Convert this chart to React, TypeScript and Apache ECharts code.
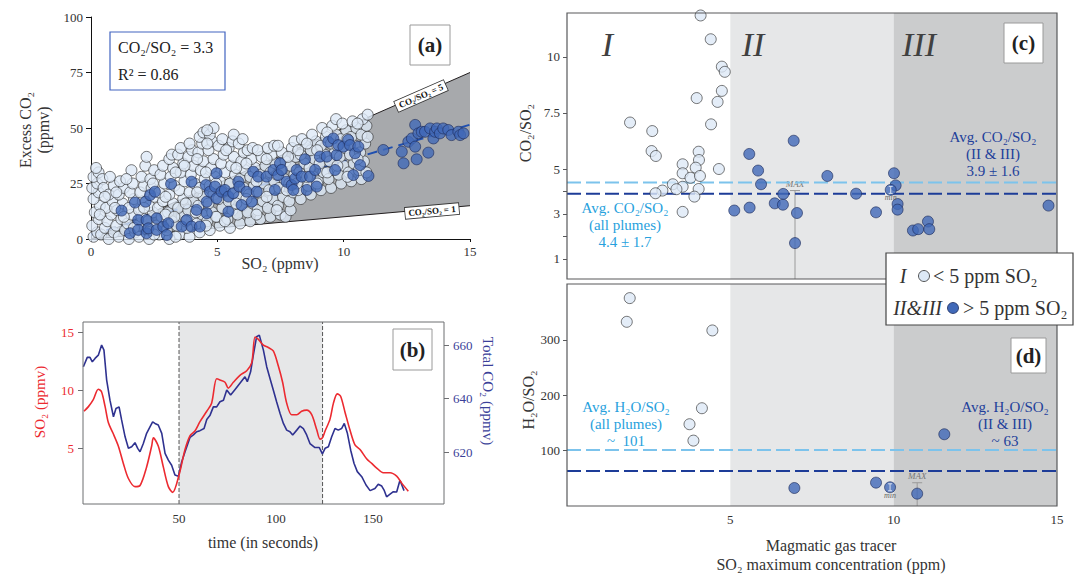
import React, { useEffect, useRef } from "react";
import * as echarts from "echarts";

const SERIF = "'Liberation Serif', 'Times New Roman', Times, serif";

// ---------------- Panel (a) ----------------
const aXTicks = [0, 5, 10, 15];
const aYTicks = [0, 25, 50, 75, 100];
const ratio5Line = [[0, 0], [15, 75]];
const ratio1Line = [[0, 0], [15, 15]];
const wedgeVertices = [[0, 0], [15, 75], [15, 15]];
const fitLine = [[0, 2], [15, 51.5]];

const plumeLowSO2 = [
  [0.1, 1], [0.25, 3], [0.05, 6], [0.3, 9], [0.15, 12], [0.35, 15], [0.1, 18], [0.3, 21], [0.05, 23], [0.25, 25], [0.1, 28], [0.3, 30], [0.2, 32], [0.45, 27], [0.5, 23], [0.4, 2], [0.55, 5],
  [0.7, 0], [0.65, 8], [0.8, 11], [0.6, 14], [0.85, 17], [0.7, 20], [0.9, 24], [0.75, 28], [0.9, 3], [1.0, 6],
  [1.1, 1], [1.2, 9], [1.05, 13], [1.25, 16], [1.1, 20], [1.3, 23], [1.15, 26], [1.35, 4],
  [1.5, 0], [1.45, 7], [1.6, 11], [1.5, 14], [1.7, 18], [1.55, 21], [1.65, 25], [1.6, 31], [1.75, 3],
  [1.9, 1], [1.85, 6], [2.0, 10], [1.9, 13], [2.05, 17], [1.95, 21], [2.1, 24], [2.0, 28], [2.15, 33], [2.2, 37],
  [2.3, 0], [2.35, 4], [2.25, 8], [2.45, 12], [2.3, 15], [2.5, 19], [2.4, 23], [2.35, 27], [2.5, 31],
  [2.7, 2], [2.6, 6], [2.8, 10], [2.65, 14], [2.85, 17], [2.7, 21], [2.9, 25], [2.75, 29], [2.85, 33],
  [3.1, 0], [3.0, 4], [3.2, 8], [3.05, 12], [3.25, 16], [3.1, 20], [3.3, 24], [3.15, 28], [3.25, 32], [3.1, 36], [3.2, 38],
  [3.5, 2], [3.4, 6], [3.6, 10], [3.45, 14], [3.65, 18], [3.5, 22], [3.7, 26], [3.55, 30], [3.65, 34], [3.45, 38], [3.55, 41],
  [3.9, 1], [3.8, 5], [4.0, 9], [3.85, 13], [4.05, 17], [3.9, 21], [4.1, 25], [3.95, 29], [4.05, 33], [3.85, 37], [4.0, 40], [3.9, 43],
  [4.3, 3], [4.2, 7], [4.4, 11], [4.25, 15], [4.45, 19], [4.3, 23], [4.5, 27], [4.35, 31], [4.45, 35], [4.25, 39], [4.4, 43], [4.3, 46], [4.45, 48],
  [4.7, 4], [4.6, 8], [4.8, 12], [4.65, 16], [4.85, 20], [4.7, 24], [4.9, 28], [4.75, 32], [4.85, 36], [4.65, 40], [4.8, 44], [4.7, 47], [4.85, 50], [4.6, 49],
  [5.1, 6], [5.0, 10], [5.2, 14], [5.05, 18], [5.25, 22], [5.1, 26], [5.3, 30], [5.15, 34], [5.25, 38], [5.05, 42], [5.2, 45],
  [5.5, 5], [5.4, 9], [5.6, 13], [5.45, 17], [5.65, 21], [5.5, 25], [5.7, 29], [5.55, 33], [5.65, 37], [5.45, 41], [5.6, 44], [5.65, 47],
  [5.9, 7], [5.8, 11], [6.0, 15], [5.85, 19], [6.05, 23], [5.9, 27], [6.1, 31], [5.95, 35], [6.05, 39], [5.85, 43], [6.0, 45],
  [6.3, 8], [6.2, 12], [6.4, 16], [6.25, 20], [6.45, 24], [6.3, 28], [6.5, 32], [6.35, 36], [6.2, 40], [6.4, 41],
  [6.7, 9], [6.6, 13], [6.8, 17], [6.65, 21], [6.85, 25], [6.7, 29], [6.9, 33], [6.75, 37], [6.6, 40],
  [7.1, 10], [7.0, 14], [7.2, 18], [7.05, 22], [7.25, 26], [7.1, 30], [7.3, 34], [7.15, 38], [7.0, 41], [7.25, 42],
  [7.5, 11], [7.4, 15], [7.6, 19], [7.45, 23], [7.65, 27], [7.5, 31], [7.7, 35], [7.55, 39], [7.4, 42], [7.7, 10],
  [7.9, 13], [7.85, 17], [8.0, 21], [7.85, 25], [8.05, 29], [7.9, 33], [8.1, 37], [7.95, 41], [8.05, 44],
  [8.3, 18], [8.2, 22], [8.4, 26], [8.25, 30], [8.45, 34], [8.3, 38], [8.5, 42], [8.35, 45],
  [8.7, 20], [8.6, 24], [8.8, 28], [8.65, 32], [8.85, 36], [8.7, 40], [8.9, 44], [8.75, 47],
  [9.1, 22], [9.0, 26], [9.2, 30], [9.05, 34], [9.25, 38], [9.1, 42], [9.3, 46], [9.15, 50],
  [9.5, 23], [9.4, 27], [9.6, 31], [9.45, 35], [9.65, 39], [9.5, 43], [9.7, 47], [9.55, 51], [9.7, 54],
  [9.9, 25], [9.8, 29], [10.0, 33], [9.85, 37], [10.05, 41], [9.9, 45], [10.1, 49], [9.95, 52],
  [10.3, 26], [10.2, 30], [10.4, 34], [10.25, 38], [10.45, 42], [10.3, 46], [10.5, 50], [10.35, 53],
  [10.7, 27], [10.6, 31], [10.8, 35], [10.65, 39], [10.85, 43], [10.7, 47], [10.9, 51], [10.75, 54], [10.95, 56],
  [0.35, 11], [0.55, 19], [0.95, 14], [1.3, 10], [1.0, 21], [1.4, 27], [1.7, 5], [2.1, 14], [2.5, 2], [2.45, 25],
  [2.95, 11], [2.95, 19], [3.35, 1], [3.3, 10], [3.35, 30], [3.75, 8], [3.75, 16], [3.7, 33], [4.15, 12], [4.2, 21],
  [4.2, 36], [4.55, 6], [4.55, 30], [4.6, 43], [4.95, 10], [4.95, 25], [5.3, 8], [5.35, 40], [5.75, 16], [5.75, 32],
  [6.15, 18], [6.15, 34], [6.55, 11], [6.55, 26], [6.95, 19], [6.95, 36], [7.35, 13], [7.35, 29], [7.75, 22], [7.8, 37],
  [8.15, 25], [8.2, 40], [8.55, 28], [8.55, 43], [8.95, 25], [8.95, 40], [9.35, 30], [9.35, 48], [9.75, 33], [9.75, 42],
  [10.15, 28], [10.15, 45], [10.55, 36], [10.55, 52], [10.9, 30], [10.95, 46],
];

const plumeHighSO2 = [
  [1.21, 12.8], [1.54, 2.6], [1.74, 16.4], [1.87, 8.6], [1.87, 4.1], [2.2, 2.6], [2.16, 16.8], [2.34, 19.8], [2.53, 21.3],
  [2.2, 8.6], [2.6, 9.3], [2.27, 4.8], [2.6, 4.1], [2.86, 5.6], [3.06, 7.1], [3.0, 1.8], [3.17, 24.8], [3.59, 5.6],
  [3.79, 8.6], [3.98, 5.6], [3.98, 25.8], [4.18, 13.1], [4.31, 5.6], [4.58, 11.6], [4.58, 16.8], [4.55, 24.3], [4.71, 21.3],
  [4.97, 29.6], [4.91, 23.6], [4.97, 18.3], [5.17, 21.3], [5.3, 22.1], [5.44, 19.1], [5.44, 12.3], [5.63, 20.6], [5.83, 25.8],
  [5.87, 23.6], [5.96, 15.3], [6.16, 21.3], [6.36, 16.8], [6.56, 21.3], [6.42, 30.3], [6.62, 28.1], [6.95, 28.1], [7.22, 31.1],
  [7.28, 22.1], [7.41, 28.8], [7.48, 34.1], [7.55, 31.1], [7.74, 25.8], [7.94, 24.3], [8.01, 22.1], [8.08, 27.3], [8.14, 31.1],
  [8.34, 28.1], [8.47, 35.9], [8.54, 22.1], [8.67, 28.1], [8.87, 31.1], [8.93, 23.6], [9.06, 37.1], [9.33, 37.1], [9.39, 43.8],
  [9.59, 45.3], [9.66, 31.1], [9.72, 37.8], [9.79, 42.3], [9.99, 41.6], [10.18, 44.6], [10.25, 42.3], [10.38, 28.8], [10.45, 38.6],
  [10.58, 41.6], [10.65, 33.3], [10.98, 28.4], [11.57, 40.1], [12.3, 39.3], [12.37, 34.1], [12.56, 43.8], [12.7, 45.3], [12.83, 51.4],
  [12.89, 35.9], [12.83, 41.6], [12.96, 47.6], [13.09, 48.3], [13.35, 38.9], [13.22, 48.3], [13.42, 49.8], [13.55, 45.3], [13.62, 48.3],
  [13.69, 49.8], [13.81, 47.6], [13.94, 49.8], [14.14, 49.1], [14.27, 46.8], [14.54, 48.3], [14.61, 46.8], [14.74, 47.6],
];

// ---------------- Panel (b) ----------------
const timeTicks = [50, 100, 150];
const so2Ticks = [5, 10, 15];
const co2Ticks = [620, 640, 660];
const plumeWindow = [[50, 124]];
const plumeBounds = [50, 124];

const so2Trace = [
  [1, 8.2], [3.3, 8.6], [5.8, 9.2], [8.4, 10.1], [10, 9.9], [11.9, 8.6], [13.6, 7.2], [16, 6.3], [18.7, 5.2], [21.3, 3.7],
  [23.9, 2.4], [27.3, 1.7], [29.9, 1.8], [33.3, 3.4], [35.9, 5.2], [36.8, 5.9], [39.3, 5.2], [41.9, 3.4], [44.5, 1.7], [46.7, 1.2],
  [50, 2.7], [53.1, 4.9], [55.7, 6.1], [58.2, 6.5], [60.8, 7.3], [64.3, 8.2], [66.8, 8.9], [69.4, 11.0], [71.1, 10.9], [73.7, 10.7],
  [75.4, 10.2], [78, 10.7], [81.4, 11.3], [84.9, 11.7], [87.5, 12.4], [89.2, 14.6], [90.9, 14.4], [93.5, 13.9], [96, 13.7], [98.6, 13.4],
  [101.2, 12.1], [103.4, 10.7], [105.5, 8.9], [108.1, 7.9], [110.7, 7.9], [113.2, 8.2], [115.8, 8.3], [118.4, 7.9], [121, 6.6], [122.7, 5.8],
  [123.9, 5.9], [125.3, 6.5], [127.8, 7.5], [129.6, 8.9], [131.6, 9.7], [133.3, 9.5], [135.6, 8.1], [138.1, 6.6], [140.7, 5.3], [143.3, 4.9],
  [146.7, 4.1], [149.3, 3.7], [151.9, 3.3], [155.3, 2.9], [158.8, 2.9], [162.2, 2.6], [164.8, 2.0], [168.2, 1.3],
];

const co2Trace = [
  [0.7, 651.9], [2.7, 655.4], [4.1, 655.4], [5.3, 653.7], [6.7, 655], [8.4, 656.2], [10.1, 660], [11.3, 658.1], [12.7, 646.9], [14.4, 639.4],
  [16.2, 633.2], [17.5, 636.3], [19.1, 636.9], [20.4, 632], [22.2, 625.7], [23.9, 621.4], [25.6, 622], [27.3, 623.5], [28.7, 621.4], [29.9, 620.1],
  [31.6, 623.2], [33.3, 627], [35.1, 629.5], [36.4, 631.3], [37.6, 630.7], [39.3, 630.1], [41.1, 627], [42.8, 619.5], [44.5, 617], [46.2, 615.1],
  [47.9, 611.4], [49.7, 611], [51.4, 616.4], [53.1, 620.1], [55.7, 625.5], [57.4, 626.4], [59.1, 627.6], [60.8, 628], [62.9, 628.8], [64.3, 632.2],
  [66, 633.8], [67.7, 636.9], [69.4, 636.9], [71.1, 638.8], [72.9, 639.4], [74.6, 643.2], [76.6, 641.3], [78.9, 643.4], [81.4, 645.7], [84, 648.1],
  [85.2, 646.3], [86.9, 650], [88.3, 656.2], [90, 663.1], [91.4, 663.7], [93.5, 658.1], [95.2, 651.9], [96.9, 647.5], [98.6, 643.2], [100.3, 638.8],
  [102.1, 634.4], [103.8, 630.7], [105.5, 628.2], [107.2, 627.6], [108.6, 626.4], [110.7, 628.2], [112.4, 629.7], [114.1, 628.8], [115.8, 626.4], [117.5, 623.2],
  [120.1, 621.7], [122.3, 621.7], [123.9, 619.3], [125.3, 621.4], [127, 622], [128.7, 625.7], [130.4, 628.8], [132.1, 628.2], [133.8, 628.8], [135.2, 630.7],
  [136.8, 627], [138.5, 620.7], [140.2, 615.8], [141.9, 612.7], [144.2, 610.8], [146.4, 607.7], [148.5, 605.6], [151, 606.4], [152.7, 608], [154.5, 607.3],
  [155.7, 605.8], [157, 603.3], [158.8, 604.3], [160.5, 605.2], [162.2, 605.1], [163.9, 609.5], [166, 605.6],
];

// ---------------- Panels (c) & (d) ----------------
const tracerTicks = [5, 10, 15];
const co2RatioLabels = [1, 3, 5, 7.5, 10];
const co2RatioTicks = [1, 2, 3, 4, 5, 7.5, 10];
const h2oRatioTicks = [100, 200, 300];
const regimeBands = [[5, 10], [10, 15]];

const co2RatioLow = [
  [4.09, 11.84], [4.4, 10.78], [4.74, 9.56], [4.83, 9.33], [4.74, 8.48], [4.61, 7.99], [3.97, 8.16], [4.41, 6.99], [1.93, 7.07], [2.61, 6.69],
  [2.59, 5.8], [2.72, 5.58], [4.65, 5.0], [4.03, 5.77], [4.04, 5.4], [3.54, 5.21], [3.94, 5.06], [3.54, 4.81], [3.78, 4.61], [4.07, 4.69],
  [3.24, 4.32], [3.54, 4.21], [3.35, 4.1], [2.92, 4.04], [2.71, 3.92], [4.03, 4.11], [3.9, 3.77], [3.54, 3.09],
];
const co2RatioHigh = [
  [5.58, 5.67], [5.85, 4.93], [5.94, 4.32], [5.12, 3.15], [5.59, 3.28], [6.94, 6.26], [6.62, 3.89], [6.36, 3.47], [6.61, 3.41], [7.04, 3.04],
  [6.98, 1.7], [7.97, 4.69], [8.85, 3.9], [9.46, 3.07], [10.01, 4.81], [10.06, 4.27], [9.91, 4.07], [10.12, 3.44], [10.12, 3.19], [10.59, 2.26],
  [10.75, 2.32], [11.05, 2.66], [11.09, 2.32], [14.74, 3.37],
];
const h2oRatioLow = [[1.92, 375.5], [1.83, 332.7], [4.45, 317.1], [4.13, 176.6], [3.75, 147.7], [3.87, 118.1]];
const h2oRatioHigh = [[6.96, 32.5], [9.46, 42.2], [9.89, 33.8], [10.72, 22.3], [11.55, 129.6]];

const avgCO2All = 4.4;
const avgCO2High = 3.9;
const avgH2OAll = 101;
const avgH2OHigh = 63;
const maxBarC = [[6.98, 4.04, 0.1]];
const maxBarD = [[10.72, 42, 0]];
const minMarkC = [[9.91, 4.07]];
const minMarkD = [[9.89, 33.8]];

// ---------------- styles ----------------
const LIGHT_PT = { color: "#dde9f6", borderColor: "#2b2b2b", borderWidth: 0.8 };
const BLUE_PT = { color: "#4169b8", borderColor: "#1c2b5a", borderWidth: 0.8 };
const LIGHT_DASH = "#7cc3ec";
const DARK_DASH = "#1d3c98";
const RED = "#ec2a30";
const NAVY = "#2f3290";

function txt(x: number, y: number, text: string, o: any = {}) {
  const align = o.align || "center";
  return {
    type: "text",
    x,
    y,
    z: 100,
    rotation: o.rotation || 0,
    style: {
      text,
      fontFamily: SERIF,
      fontSize: o.size || 15,
      fill: o.color || "#333",
      align,
      textAlign: align,
      verticalAlign: "middle",
      textVerticalAlign: "middle",
      fontStyle: o.italic ? "italic" : "normal",
      fontWeight: o.bold ? "bold" : "normal",
      lineHeight: o.lineHeight,
      ...(o.extra || {}),
    },
  };
}
function box(x: number, y: number, w: number, h: number, stroke = "#9a9a9a", lw = 1) {
  return { type: "rect", z: 99, shape: { x, y, width: w, height: h }, style: { fill: "#fff", stroke, lineWidth: lw } };
}

function bandSeries(xi: number, yi: number, bands: number[][], colors: string[]) {
  return {
    type: "custom",
    xAxisIndex: xi,
    yAxisIndex: yi,
    z: 0,
    silent: true,
    data: bands,
    renderItem: (params: any, api: any) => {
      const cs = params.coordSys;
      const x0 = api.coord([api.value(0), 1])[0];
      const x1 = api.coord([api.value(1), 1])[0];
      return { type: "rect", shape: { x: x0, y: cs.y, width: x1 - x0, height: cs.height }, style: { fill: colors[params.dataIndex] } };
    },
  };
}

function hLine(xi: number, yi: number, value: number, color: string) {
  return {
    type: "line",
    xAxisIndex: xi,
    yAxisIndex: yi,
    z: 3,
    silent: true,
    symbol: "none",
    data: [[0, value], [15, value]],
    lineStyle: { color, width: 2, type: [14, 5] },
  };
}

function maxBarSeries(xi: number, yi: number, data: number[][]) {
  return {
    type: "custom",
    xAxisIndex: xi,
    yAxisIndex: yi,
    z: 3,
    silent: true,
    data,
    renderItem: (params: any, api: any) => {
      const top = api.coord([api.value(0), api.value(1)]);
      const bot = api.coord([api.value(0), api.value(2)]);
      const st = { stroke: "#9a9a9a", lineWidth: 1 };
      return {
        type: "group",
        children: [
          { type: "line", shape: { x1: top[0], y1: top[1], x2: bot[0], y2: bot[1] }, style: st },
          { type: "line", shape: { x1: top[0] - 5, y1: top[1], x2: top[0] + 5, y2: top[1] }, style: st },
          {
            type: "text",
            x: top[0],
            y: top[1] - 2,
            style: { text: "MAX", fontSize: 9, fontStyle: "italic", fill: "#777", align: "center", verticalAlign: "bottom", fontFamily: SERIF },
          },
        ],
      };
    },
  };
}

function minMarkSeries(xi: number, yi: number, data: number[][]) {
  return {
    type: "custom",
    xAxisIndex: xi,
    yAxisIndex: yi,
    z: 8,
    silent: true,
    data,
    renderItem: (params: any, api: any) => {
      const p = api.coord([api.value(0), api.value(1)]);
      const st = { stroke: "#d8e0ee", lineWidth: 1 };
      return {
        type: "group",
        children: [
          { type: "line", shape: { x1: p[0], y1: p[1] - 3.5, x2: p[0], y2: p[1] + 3.5 }, style: st },
          { type: "line", shape: { x1: p[0] - 2, y1: p[1] - 3.5, x2: p[0] + 2, y2: p[1] - 3.5 }, style: st },
          { type: "line", shape: { x1: p[0] - 2, y1: p[1] + 3.5, x2: p[0] + 2, y2: p[1] + 3.5 }, style: st },
          {
            type: "text",
            x: p[0],
            y: p[1] + 8,
            style: { text: "min", fontSize: 8, fontStyle: "italic", fill: "#666", align: "center", verticalAlign: "middle", fontFamily: SERIF },
          },
        ],
      };
    },
  };
}

const axisLabelBase = { fontFamily: SERIF, fontSize: 13, color: "#333" };

export default function App() {
  const ref = useRef<HTMLDivElement>(null);

  useEffect(() => {
    if (!ref.current) return;
    const chart = echarts.init(ref.current, null, { renderer: "svg" });

    const option: any = {
      animation: false,
      backgroundColor: "#ffffff",
      textStyle: { fontFamily: SERIF },
      grid: [
        { left: 91, top: 17, width: 379, height: 222, show: false },
        { left: 83, top: 322, width: 361, height: 182, show: true, borderColor: "#6d6e71", borderWidth: 1, backgroundColor: "transparent", z: 10 },
        { left: 567, top: 13, width: 490, height: 266, show: true, borderColor: "#58595b", borderWidth: 1.2, backgroundColor: "transparent", z: 10 },
        { left: 567, top: 284, width: 490, height: 222, show: true, borderColor: "#58595b", borderWidth: 1.2, backgroundColor: "transparent", z: 10 },
      ],
      xAxis: [
        {
          gridIndex: 0, type: "value", min: 0, max: 15, interval: 5,
          axisLine: { show: true, lineStyle: { color: "#111", width: 1 } },
          axisTick: { show: true, length: 3, lineStyle: { color: "#111" } },
          axisLabel: { ...axisLabelBase, margin: 6, customValues: aXTicks },
          splitLine: { show: false },
        },
        {
          gridIndex: 1, type: "value", min: 0.5, max: 186.6,
          axisLine: { show: false }, axisTick: { show: false },
          axisLabel: { ...axisLabelBase, margin: 8, customValues: timeTicks },
          splitLine: { show: false },
        },
        {
          gridIndex: 2, type: "value", min: 0, max: 15,
          axisLine: { show: false }, axisTick: { show: false }, axisLabel: { show: false }, splitLine: { show: false },
        },
        {
          gridIndex: 3, type: "value", min: 0, max: 15,
          axisLine: { show: false }, axisTick: { show: false },
          axisLabel: { ...axisLabelBase, margin: 7, customValues: tracerTicks },
          splitLine: { show: false },
        },
      ],
      yAxis: [
        {
          gridIndex: 0, type: "value", min: 0, max: 100, interval: 25,
          axisLine: { show: true, lineStyle: { color: "#111", width: 1 } },
          axisTick: { show: true, length: 5, lineStyle: { color: "#111" } },
          axisLabel: { ...axisLabelBase, margin: 8, customValues: aYTicks },
          splitLine: { show: false },
        },
        {
          gridIndex: 1, type: "value", position: "left", min: 0.2, max: 15.9,
          axisLine: { show: false },
          axisTick: { show: true, length: 5, customValues: so2Ticks, lineStyle: { color: "#6d6e71" } },
          axisLabel: { ...axisLabelBase, color: RED, margin: 9, customValues: so2Ticks },
          splitLine: { show: false },
        },
        {
          gridIndex: 1, type: "value", position: "right", min: 600.6, max: 668.6,
          axisLine: { show: false },
          axisTick: { show: true, length: 5, customValues: co2Ticks, lineStyle: { color: "#6d6e71" } },
          axisLabel: { ...axisLabelBase, color: "#3b3f99", margin: 9, customValues: co2Ticks },
          splitLine: { show: false },
        },
        {
          gridIndex: 2, type: "value", min: 0.1, max: 11.95,
          axisLine: { show: false },
          axisTick: { show: true, length: 4, customValues: co2RatioTicks, lineStyle: { color: "#58595b" } },
          axisLabel: { ...axisLabelBase, margin: 7, customValues: co2RatioLabels },
          splitLine: { show: false },
        },
        {
          gridIndex: 3, type: "value", min: 0, max: 401,
          axisLine: { show: false },
          axisTick: { show: true, length: 4, customValues: h2oRatioTicks, lineStyle: { color: "#58595b" } },
          axisLabel: { ...axisLabelBase, margin: 7, customValues: h2oRatioTicks },
          splitLine: { show: false },
        },
      ],
      series: [
        // ----- (a)
        {
          type: "custom", xAxisIndex: 0, yAxisIndex: 0, z: 1, silent: true, data: [0],
          renderItem: (params: any, api: any) => ({
            type: "polygon",
            shape: { points: wedgeVertices.map((p) => api.coord(p)) },
            style: { fill: "#a7a9ac" },
          }),
        },
        { type: "line", xAxisIndex: 0, yAxisIndex: 0, z: 2, symbol: "none", silent: true, data: ratio5Line, lineStyle: { color: "#231f20", width: 1 } },
        { type: "line", xAxisIndex: 0, yAxisIndex: 0, z: 2, symbol: "none", silent: true, data: ratio1Line, lineStyle: { color: "#231f20", width: 1 } },
        { type: "line", xAxisIndex: 0, yAxisIndex: 0, z: 2, symbol: "none", silent: true, data: fitLine, lineStyle: { color: "#1f4fb0", width: 2, type: [10, 6] } },
        { type: "scatter", xAxisIndex: 0, yAxisIndex: 0, z: 3, clip: false, symbolSize: 11, data: plumeLowSO2, itemStyle: LIGHT_PT },
        { type: "scatter", xAxisIndex: 0, yAxisIndex: 0, z: 4, clip: false, symbolSize: 11, data: plumeHighSO2, itemStyle: BLUE_PT },
        // ----- (b)
        bandSeries(1, 1, plumeWindow, ["#e6e7e8"]),
        ...plumeBounds.map((t) => ({
          type: "line", xAxisIndex: 1, yAxisIndex: 1, z: 2, symbol: "none", silent: true,
          data: [[t, 0.2], [t, 15.9]],
          lineStyle: { color: "#555", width: 1, type: [4, 2] },
        })),
        { type: "line", xAxisIndex: 1, yAxisIndex: 2, z: 3, symbol: "none", silent: true, data: co2Trace, lineStyle: { color: NAVY, width: 1.6 } },
        { type: "line", xAxisIndex: 1, yAxisIndex: 1, z: 4, symbol: "none", silent: true, smooth: 0.3, data: so2Trace, lineStyle: { color: RED, width: 1.6 } },
        // ----- (c)
        bandSeries(2, 3, regimeBands, ["#e6e7e8", "#cbcccd"]),
        hLine(2, 3, avgCO2All, LIGHT_DASH),
        hLine(2, 3, avgCO2High, DARK_DASH),
        maxBarSeries(2, 3, maxBarC),
        { type: "scatter", xAxisIndex: 2, yAxisIndex: 3, z: 5, clip: false, symbolSize: 11, data: co2RatioLow, itemStyle: LIGHT_PT },
        { type: "scatter", xAxisIndex: 2, yAxisIndex: 3, z: 6, clip: false, symbolSize: 11, data: co2RatioHigh, itemStyle: BLUE_PT },
        minMarkSeries(2, 3, minMarkC),
        // ----- (d)
        bandSeries(3, 4, regimeBands, ["#e6e7e8", "#cbcccd"]),
        hLine(3, 4, avgH2OAll, LIGHT_DASH),
        hLine(3, 4, avgH2OHigh, DARK_DASH),
        maxBarSeries(3, 4, maxBarD),
        { type: "scatter", xAxisIndex: 3, yAxisIndex: 4, z: 5, clip: false, symbolSize: 11, data: h2oRatioLow, itemStyle: LIGHT_PT },
        { type: "scatter", xAxisIndex: 3, yAxisIndex: 4, z: 6, clip: false, symbolSize: 11, data: h2oRatioHigh, itemStyle: BLUE_PT },
        minMarkSeries(3, 4, minMarkD),
      ],
      graphic: [
        // ----- (a)
        box(110, 32, 115, 58, "#4264c0", 1.2),
        txt(118, 47, "CO₂/SO₂ = 3.3", { size: 16, align: "left", color: "#222" }),
        txt(118, 74, "R² = 0.86", { size: 16, align: "left", color: "#222" }),
        box(410, 25, 40, 40),
        txt(430, 45, "(a)", { size: 21, bold: true, color: "#222" }),
        txt(421, 96, "CO₂/SO₂ = 5", {
          size: 9, bold: true, color: "#111", rotation: 0.414,
          extra: { backgroundColor: "#fff", borderColor: "#333", borderWidth: 0.8, padding: [1, 3, 1, 3] },
        }),
        txt(432, 211, "CO₂/SO₂ = 1", {
          size: 9, bold: true, color: "#111", rotation: 0.088,
          extra: { backgroundColor: "#fff", borderColor: "#333", borderWidth: 0.8, padding: [1, 3, 1, 3] },
        }),
        txt(34, 130, "Excess CO₂\n(ppmv)", { size: 16, rotation: Math.PI / 2, lineHeight: 18, color: "#333" }),
        txt(280, 263, "SO₂ (ppmv)", { size: 16, color: "#333" }),
        // ----- (b)
        box(393, 329, 39, 41),
        txt(412.5, 349.5, "(b)", { size: 21, bold: true, color: "#222" }),
        txt(40, 402, "SO₂ (ppmv)", { size: 15, rotation: Math.PI / 2, color: RED }),
        txt(488, 391, "Total CO₂ (ppmv)", { size: 15, rotation: -Math.PI / 2, color: "#3b3f99" }),
        txt(263, 542, "time (in seconds)", { size: 16, color: "#333" }),
        // ----- (c) & (d)
        txt(607.5, 44, "I", { size: 34, italic: true, color: "#404040" }),
        txt(753, 44, "II", { size: 34, italic: true, color: "#404040" }),
        txt(919, 44, "III", { size: 34, italic: true, color: "#404040" }),
        box(1004, 23, 39, 40),
        txt(1023.5, 43, "(c)", { size: 21, bold: true, color: "#222" }),
        box(1011, 338, 35, 35),
        txt(1028.5, 355.5, "(d)", { size: 21, bold: true, color: "#222" }),
        txt(993, 154, "Avg. CO₂/SO₂\n(II & III)\n3.9 ± 1.6", { size: 15, lineHeight: 17, color: "#22409a" }),
        txt(625, 225, "Avg. CO₂/SO₂\n(all plumes)\n4.4 ± 1.7", { size: 15, lineHeight: 17, color: "#27a1dd" }),
        txt(626, 424, "Avg. H₂O/SO₂\n(all plumes)\n~  101", { size: 15, lineHeight: 17, color: "#27a1dd" }),
        txt(1005, 424, "Avg. H₂O/SO₂\n(II & III)\n~ 63", { size: 15, lineHeight: 17, color: "#22409a" }),
        txt(525, 133, "CO₂/SO₂", { size: 16, rotation: Math.PI / 2, color: "#333" }),
        txt(528, 400, "H₂O/SO₂", { size: 16, rotation: Math.PI / 2, color: "#333" }),
        txt(831, 545, "Magmatic gas tracer", { size: 16, color: "#333" }),
        txt(831, 564, "SO₂ maximum concentration (ppm)", { size: 16, color: "#333" }),
        // legend
        box(886, 253, 187, 72, "#444", 1.2),
        txt(903, 276, "I", { size: 20, italic: true, color: "#333" }),
        { type: "circle", z: 101, shape: { cx: 924, cy: 276, r: 5.5 }, style: { fill: LIGHT_PT.color, stroke: "#2b2b2b", lineWidth: 0.8 } },
        txt(933, 276, "< 5 ppm SO₂", { size: 20, align: "left", color: "#333" }),
        txt(942, 308, "II&III", { size: 20, italic: true, align: "right", color: "#333" }),
        { type: "circle", z: 101, shape: { cx: 953, cy: 308, r: 5.5 }, style: { fill: BLUE_PT.color, stroke: "#1c2b5a", lineWidth: 0.8 } },
        txt(963, 308, "> 5 ppm SO₂", { size: 20, align: "left", color: "#333" }),
      ],
    };

    chart.setOption(option);
    return () => chart.dispose();
  }, []);

  return (
    <div
      ref={ref}
      style={{ position: "absolute", left: 0, top: 0, width: 1079, height: 575, background: "#fff" }}
    />
  );
}
